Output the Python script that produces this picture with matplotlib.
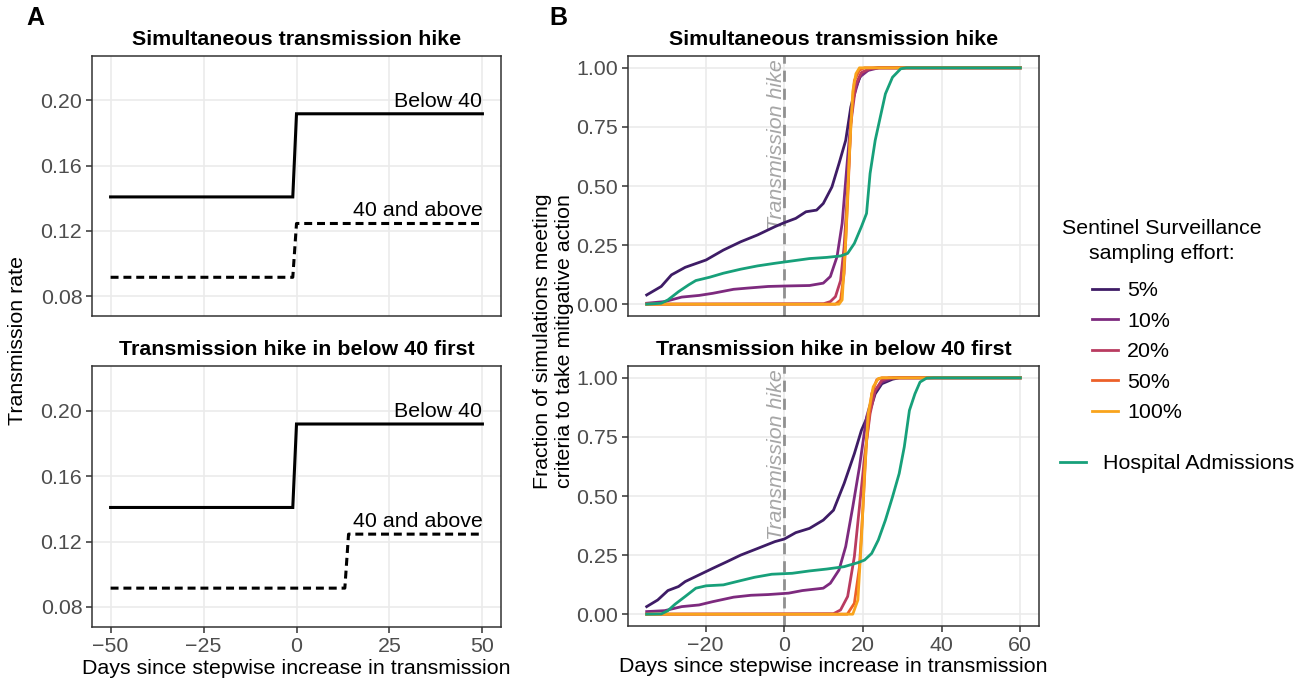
import numpy as np
import matplotlib
matplotlib.use("Agg")
import matplotlib.pyplot as plt

plt.rcParams['font.family'] = ['Liberation Sans', 'DejaVu Sans']

# ---- panel A: transmission rate step functions ----
a_days = [-50, -1, 0, 50]
a_below40 = [0.1408, 0.1408, 0.1918, 0.1918]
a_above40_sim = [0.0915, 0.0915, 0.1245, 0.1245]
a_days_late = [-50, 13, 14, 50]
a_above40_late = [0.0915, 0.0915, 0.1245, 0.1245]

# ---- panel B, top: simultaneous transmission hike ----
t5_x = [-35, -31.3, -28.7, -25.2, -19.9, -15.5, -11.1, -6.8, -2.4, 0, 2.9, 5.5, 8.2, 9.9, 12.1,
        13.9, 15.6, 16.9, 18.2, 19.6, 21.8, 24, 60]
t5_y = [0.039, 0.075, 0.124, 0.156, 0.187, 0.229, 0.264, 0.293, 0.328, 0.345, 0.363, 0.391, 0.398,
        0.426, 0.496, 0.595, 0.693, 0.834, 0.918, 0.975, 0.996, 1.0, 1.0]
t10_x = [-35, -30.4, -26.1, -21.7, -18.2, -12.9, -9.4, -4.1, 0.3, 6.4, 9.9, 11.7, 13.4, 14.7, 16.1,
         17.4, 19.1, 21.3, 24, 60]
t10_y = [0.004, 0.011, 0.030, 0.037, 0.046, 0.063, 0.068, 0.075, 0.077, 0.079, 0.089, 0.117, 0.201,
         0.342, 0.623, 0.862, 0.96, 0.989, 1.0, 1.0]
t20_x = [-35, 10, 11.7, 13, 14.3, 15.2, 16.1, 16.9, 18.2, 19.6, 21.8, 24, 60]
t20_y = [0, 0.002, 0.011, 0.032, 0.10, 0.243, 0.482, 0.764, 0.932, 0.98, 0.997, 1, 1]
t50_x = [-35, 13, 14.3, 15.2, 16.1, 16.9, 17.8, 19.1, 20.4, 60]
t50_y = [0, 0, 0.018, 0.13, 0.44, 0.764, 0.946, 0.99, 1, 1]
t100_x = [-35, 13.9, 14.7, 15.6, 16.5, 17.4, 18.2, 19.1, 60]
t100_y = [0, 0, 0.018, 0.27, 0.62, 0.90, 0.975, 1, 1]
thosp_x = [-35, -31.3, -29.6, -26.9, -24.3, -22.5, -19, -15.5, -11.1, -6.8, -2.4, 2, 6.4, 10.8, 14.3,
           16.1, 17.8, 19.6, 20.9, 21.8, 23.1, 24.4, 25.7, 27.5, 29.6, 31, 60]
thosp_y = [0, 0.004, 0.018, 0.053, 0.082, 0.10, 0.114, 0.131, 0.148, 0.162, 0.173, 0.183, 0.193,
           0.198, 0.204, 0.215, 0.257, 0.328, 0.384, 0.553, 0.693, 0.792, 0.89, 0.96, 0.996, 1, 1]

# ---- panel B, bottom: hike in below 40 first ----
b5_x = [-35, -32.2, -29.6, -26.9, -25.2, -21.7, -18.2, -14.6, -11.1, -6.8, -2.4, 0, 2.9, 6.4, 9.9,
        12.5, 15.2, 17.8, 19.6, 21.8, 23.1, 24.8, 27.5, 29.2, 60]
b5_y = [0.032, 0.06, 0.10, 0.117, 0.138, 0.166, 0.194, 0.222, 0.25, 0.278, 0.307, 0.318, 0.345,
        0.363, 0.398, 0.44, 0.553, 0.679, 0.778, 0.862, 0.932, 0.975, 0.994, 1, 1]
b10_x = [-35, -30.4, -26.1, -21.7, -18.2, -12.9, -8.5, -4.1, 1.1, 4.6, 9.9, 11.7, 13.9, 15.6, 17.4,
         19.1, 20.9, 22.6, 24.8, 27.5, 29, 60]
b10_y = [0.011, 0.015, 0.032, 0.039, 0.053, 0.072, 0.08, 0.083, 0.089, 0.10, 0.11, 0.131, 0.187,
         0.286, 0.454, 0.623, 0.834, 0.932, 0.982, 0.999, 1, 1]
b20_x = [-35, 12.5, 14.3, 16.1, 17.8, 19.1, 20.4, 21.8, 23.1, 24.8, 26.6, 60]
b20_y = [0, 0.002, 0.018, 0.075, 0.243, 0.454, 0.665, 0.848, 0.947, 0.99, 1, 1]
b50_x = [-35, 16, 17.8, 19.1, 20, 20.9, 22.2, 23.5, 24.8, 60]
b50_y = [0, 0, 0.046, 0.20, 0.454, 0.735, 0.932, 0.992, 1, 1]
b100_x = [-35, 17.4, 18.7, 19.6, 20.4, 21.3, 22.6, 23.9, 24.8, 60]
b100_y = [0, 0, 0.06, 0.314, 0.595, 0.848, 0.962, 0.997, 1, 1]
bhosp_x = [-35, -31.3, -29.6, -27.8, -25.2, -22.5, -19.9, -15.5, -11.1, -7.6, -3.2, 2, 6.4, 10.8,
           15.2, 18.7, 20.4, 22.2, 23.9, 25.7, 27.5, 29.2, 30.5, 31.8, 33.2, 34.5, 36.2, 38, 60]
bhosp_y = [0, 0.001, 0.015, 0.042, 0.075, 0.11, 0.12, 0.124, 0.142, 0.156, 0.169, 0.173, 0.183,
           0.191, 0.201, 0.218, 0.229, 0.257, 0.314, 0.398, 0.496, 0.595, 0.708, 0.862, 0.932,
           0.982, 0.999, 1, 1]

effort_labels = ['5%', '10%', '20%', '50%', '100%']
effort_colors = ['#3E1C66', '#7D2A7E', '#B93B60', '#EC6029', '#F9A41C']
hosp_label = 'Hospital Admissions'
hosp_color = '#17A07A'

FS = 15.4
W, H = 1304, 685
TXT = '#4D4D4D'
EDGE = '#333333'
GRID = '#EBEBEB'


def pos(l, t, r, b):
    return [l / W, 1 - b / H, (r - l) / W, (b - t) / H]


def style(ax):
    ax.grid(True, color=GRID, lw=1.2, zorder=0)
    ax.set_axisbelow(True)
    for s in ax.spines.values():
        s.set_color(EDGE)
        s.set_linewidth(1.1)
    ax.tick_params(length=4, width=1.1, color=EDGE, labelcolor=TXT, labelsize=FS, pad=3)


fig = plt.figure(figsize=(W / 100, H / 100), dpi=100)

# panel A
axA1 = fig.add_axes(pos(92, 56, 501, 316))
axA2 = fig.add_axes(pos(92, 366, 501, 627))
for ax, dd, above, title in [(axA1, a_days, a_above40_sim, 'Simultaneous transmission hike'),
                             (axA2, a_days_late, a_above40_late, 'Transmission hike in below 40 first')]:
    style(ax)
    ax.plot(a_days, a_below40, color='black', lw=2.2, solid_joinstyle='miter')
    ax.plot(dd, above, color='black', lw=2.2, dashes=[2.6, 1.6])
    ax.text(50, a_below40[-1] + 0.002, 'Below 40', ha='right', va='bottom', fontsize=FS)
    ax.text(50, above[-1] + 0.002, '40 and above', ha='right', va='bottom', fontsize=FS)
    ax.set_xlim(-55, 55)
    ax.set_ylim(0.06775, 0.22725)
    ax.set_xticks([-50, -25, 0, 25, 50])
    ax.set_yticks([0.08, 0.12, 0.16, 0.20])
    ax.set_yticklabels(['0.08', '0.12', '0.16', '0.20'])
    ax.set_title(title, fontsize=FS, fontweight='bold', pad=8)
axA1.tick_params(axis='x', length=0, labelbottom=False)
axA2.set_xticklabels(['\u221250', '\u221225', '0', '25', '50'])
axA2.set_xlabel('Days since stepwise increase in transmission', fontsize=FS, labelpad=2)
fig.text(18 / W, 1 - 340 / H, 'Transmission rate', rotation=90, ha='center', va='center', fontsize=FS)

# panel B
axB1 = fig.add_axes(pos(628, 56, 1039, 316))
axB2 = fig.add_axes(pos(628, 366, 1039, 626))
top_sets = [(t5_x, t5_y), (t10_x, t10_y), (t20_x, t20_y), (t50_x, t50_y), (t100_x, t100_y)]
bot_sets = [(b5_x, b5_y), (b10_x, b10_y), (b20_x, b20_y), (b50_x, b50_y), (b100_x, b100_y)]
effort_handles = []
hosp_handle = None
for ax, sets, hx, hy, title in [(axB1, top_sets, thosp_x, thosp_y, 'Simultaneous transmission hike'),
                                (axB2, bot_sets, bhosp_x, bhosp_y, 'Transmission hike in below 40 first')]:
    style(ax)
    ax.axvline(0, color='#909090', lw=2.0, dashes=[4, 2.5], zorder=1)
    ax.text(0.4, 1.035, 'Transmission hike', rotation=90, ha='right', va='top',
            fontsize=FS, style='italic', color='#A6A6A6', zorder=1)
    hs = []
    for (xx, yy), c, lab in zip(sets, effort_colors, effort_labels):
        h, = ax.plot(xx, yy, color=c, lw=2.0, label=lab, zorder=3)
        hs.append(h)
    hh, = ax.plot(hx, hy, color=hosp_color, lw=2.0, label=hosp_label, zorder=4)
    if not effort_handles:
        effort_handles = hs
        hosp_handle = hh
    ax.set_xlim(-39.75, 64.75)
    ax.set_ylim(-0.05, 1.05)
    ax.set_xticks([-20, 0, 20, 40, 60])
    ax.set_xticklabels(['\u221220', '0', '20', '40', '60'])
    ax.set_yticks([0, 0.25, 0.5, 0.75, 1.0])
    ax.set_yticklabels(['0.00', '0.25', '0.50', '0.75', '1.00'])
    ax.set_title(title, fontsize=FS, fontweight='bold', pad=8)
axB1.tick_params(axis='x', length=0, labelbottom=False)
axB2.set_xlabel('Days since stepwise increase in transmission', fontsize=FS, labelpad=2)
fig.text(553 / W, 1 - 341 / H, 'Fraction of simulations meeting\ncriteria to take mitigative action',
         rotation=90, ha='center', va='center', multialignment='center', fontsize=FS, linespacing=1.2)

# panel letters
fig.text(35 / W, 1 - 18 / H, 'A', ha='center', va='center', fontsize=18, fontweight='bold')
fig.text(558 / W, 1 - 18 / H, 'B', ha='center', va='center', fontsize=18, fontweight='bold')

# legends
fig.text(1162 / W, 1 - 241 / H, 'Sentinel Surveillance\nsampling effort:', ha='center', va='center',
         multialignment='center', fontsize=FS, linespacing=1.45)
fig.legend(handles=effort_handles, labels=effort_labels, loc='upper left',
           bbox_to_anchor=(1092 / W, 1 - 281 / H), frameon=False, fontsize=FS,
           handlelength=1.2, handletextpad=0.45, labelspacing=0.54, borderpad=0, borderaxespad=0)
fig.legend(handles=[hosp_handle], labels=[hosp_label], loc='upper left',
           bbox_to_anchor=(1060 / W, 1 - 454 / H), frameon=False, fontsize=FS,
           handlelength=1.2, handletextpad=0.8, borderpad=0, borderaxespad=0)

fig.savefig('out.png', dpi=100)
